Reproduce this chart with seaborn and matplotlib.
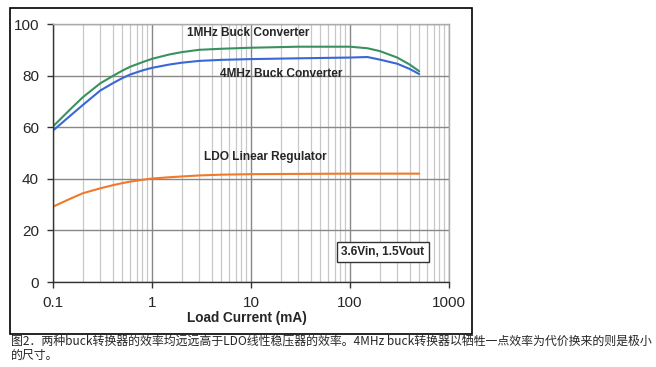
import matplotlib
matplotlib.use("Agg")
import matplotlib.pyplot as plt
import matplotlib.patches as mpatches
from matplotlib.ticker import LogLocator, FixedLocator, NullFormatter
import seaborn as sns
import pandas as pd

sns.set_theme(style="white")
plt.rcParams['font.family'] = ['Liberation Sans', 'DejaVu Sans']

load_ma = [0.1, 0.15, 0.2, 0.3, 0.4, 0.5, 0.6, 0.8, 1, 1.5, 2, 3, 5, 10, 30, 100, 150, 200, 300, 400, 500]
eff_1mhz = [60.3, 67.0, 71.6, 77.0, 79.8, 81.9, 83.4, 85.2, 86.5, 88.2, 89.1, 90.0, 90.4, 90.8, 91.2, 91.2, 90.6, 89.5, 87.0, 84.3, 81.7]
eff_4mhz = [58.7, 64.5, 68.6, 74.2, 77.0, 79.0, 80.4, 82.0, 83.0, 84.3, 85.0, 85.7, 86.1, 86.4, 86.7, 87.0, 87.2, 86.2, 84.6, 82.6, 80.6]
eff_ldo = [29.2, 32.3, 34.4, 36.3, 37.5, 38.3, 38.9, 39.6, 40.1, 40.6, 40.9, 41.3, 41.6, 41.8, 41.9, 42.0, 42.0, 42.0, 42.0, 42.0, 42.0]

series_names = ["1MHz Buck Converter", "4MHz Buck Converter", "LDO Linear Regulator"]
colors = ["#3a9160", "#3a67d6", "#f07a2a"]
x_ticks = [0.1, 1, 10, 100, 1000]
x_ticklabels = ["0.1", "1", "10", "100", "1000"]
y_ticks = [0, 20, 40, 60, 80, 100]
caption_lines = ["图2．两种buck转换器的效率均远远高于LDO线性稳压器的效率。4MHz buck转换器以牺牲一点效率为代价换来的则是极小",
                 "的尺寸。"]

df = pd.DataFrame({
    "load": load_ma * 3,
    "eff": eff_1mhz + eff_4mhz + eff_ldo,
    "series": [series_names[0]] * len(load_ma) + [series_names[1]] * len(load_ma) + [series_names[2]] * len(load_ma),
})

W, H = 656, 367
fig = plt.figure(figsize=(W / 100, H / 100), dpi=100)
ax = fig.add_axes([53 / W, 1 - 282 / H, (449 - 53) / W, (282 - 24) / H])

sns.lineplot(data=df, x="load", y="eff", hue="series", palette=dict(zip(series_names, colors)),
             ax=ax, legend=False, linewidth=1.5, estimator=None, sort=True)

ax.set_xscale("log")
ax.set_xlim(0.1, 1000)
ax.set_ylim(0, 100)
ax.xaxis.set_major_locator(FixedLocator(x_ticks))
ax.set_xticklabels(x_ticklabels)
ax.xaxis.set_minor_locator(LogLocator(base=10, subs=range(2, 10)))
ax.xaxis.set_minor_formatter(NullFormatter())
ax.set_yticks(y_ticks)
ax.grid(True, which="major", axis="both", color="#888888", linewidth=1.0)
ax.grid(True, which="minor", axis="x", color="#c8c8c8", linewidth=0.9)
ax.set_axisbelow(True)
for s in ["top", "right"]:
    ax.spines[s].set_color("#aaaaaa")
    ax.spines[s].set_linewidth(1.0)
for s in ["left", "bottom"]:
    ax.spines[s].set_color("#333333")
    ax.spines[s].set_linewidth(1.0)
ax.tick_params(axis="both", which="major", direction="out", length=4, width=1, color="#333333",
               labelsize=11, pad=6, bottom=True, left=True)
ax.tick_params(axis="x", which="minor", length=0)
ax.set_xlabel("")
ax.set_ylabel("")
fig.text(247 / W, 1 - 318 / H, "Load Current (mA)", fontsize=9.8, fontweight="bold", ha="center", va="center")

ax.text(9.3, 96.5, series_names[0], fontsize=8.6, fontweight="bold", ha="center", va="center")
ax.text(20, 80.6, series_names[1], fontsize=8.6, fontweight="bold", ha="center", va="center")
ax.text(13.9, 48.4, series_names[2], fontsize=8.6, fontweight="bold", ha="center", va="center")
ax.text(215, 11.6, "3.6Vin, 1.5Vout", fontsize=8.6, fontweight="bold", ha="center", va="center",
        bbox=dict(boxstyle="square,pad=0.35", facecolor="white", edgecolor="#333333", linewidth=1))

# outer frame
frame = mpatches.Rectangle((10 / W, 1 - 334 / H), (472 - 10) / W, (334 - 8) / H,
                           transform=fig.transFigure, fill=False, edgecolor="black", linewidth=1.2)
fig.patches.append(frame)

for i, line in enumerate(caption_lines):
    fig.text(11 / W, 1 - (341 + i * 14) / H, line, fontsize=8.6, style="italic",
             family=["Noto Sans CJK SC", "DejaVu Sans"], ha="left", va="center")

fig.savefig("out.png", dpi=100)
